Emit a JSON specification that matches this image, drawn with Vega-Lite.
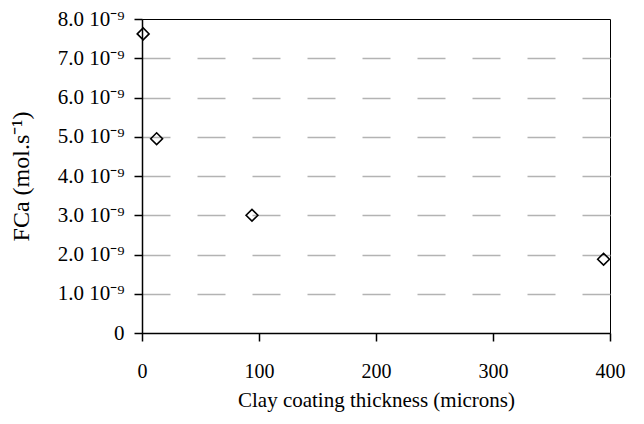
{
  "$schema": "https://vega.github.io/schema/vega-lite/v6.json",
  "width": 468,
  "height": 314,
  "autosize": {"type": "none"},
  "padding": {"left": 142, "top": 19, "right": 34, "bottom": 91},
  "background": "white",
  "config": {
    "view": {"stroke": "#000", "strokeWidth": 1},
    "font": "Liberation Serif",
    "axis": {
      "labelFont": "Liberation Serif",
      "titleFont": "Liberation Serif",
      "labelFontSize": 21,
      "titleFontSize": 21,
      "labelColor": "#000",
      "titleColor": "#000",
      "titleFontWeight": "normal",
      "domainColor": "#000",
      "domainWidth": 1.5,
      "tickColor": "#000",
      "tickWidth": 1.5,
      "tickSize": 8
    }
  },
  "data": {
    "values": [
      {"thickness": 1, "flux": 7.62e-9},
      {"thickness": 12.5, "flux": 4.95e-9},
      {"thickness": 94, "flux": 3.0e-9},
      {"thickness": 394.5, "flux": 1.88e-9}
    ]
  },
  "mark": {"type": "point", "shape": "diamond", "filled": false, "stroke": "#000", "strokeWidth": 1.6, "size": 140, "opacity": 1},
  "encoding": {
    "x": {
      "field": "thickness",
      "type": "quantitative",
      "scale": {"domain": [0, 400], "nice": false},
      "axis": {
        "values": [0, 100, 200, 300, 400],
        "grid": false,
        "labelPadding": 20,
        "labelFontSize": 20,
        "labelFlush": false,
        "title": "Clay coating thickness (microns)",
        "titlePadding": 8
      }
    },
    "y": {
      "field": "flux",
      "type": "quantitative",
      "scale": {"domain": [0, 8e-9], "nice": false, "zero": true},
      "axis": {
        "values": [0, 1e-9, 2e-9, 3e-9, 4e-9, 5e-9, 6e-9, 7e-9, 8e-9],
        "labelExpr": "datum.value == 0 ? '0' : format(datum.value * 1e9, '.1f') + ' 10⁻⁹'",
        "labelPadding": 10,
        "labelFlush": false,
        "grid": true,
        "gridColor": "#b3b3b3",
        "gridWidth": 1.3,
        "gridDash": [28, 27],
        "gridOpacity": {"condition": {"test": "datum.value < 1e-10 || datum.value > 7.5e-9", "value": 0}, "value": 1},
        "title": "FCa (mol.s⁻¹)",
        "titleFontSize": 24,
        "titlePadding": 24
      }
    }
  }
}
